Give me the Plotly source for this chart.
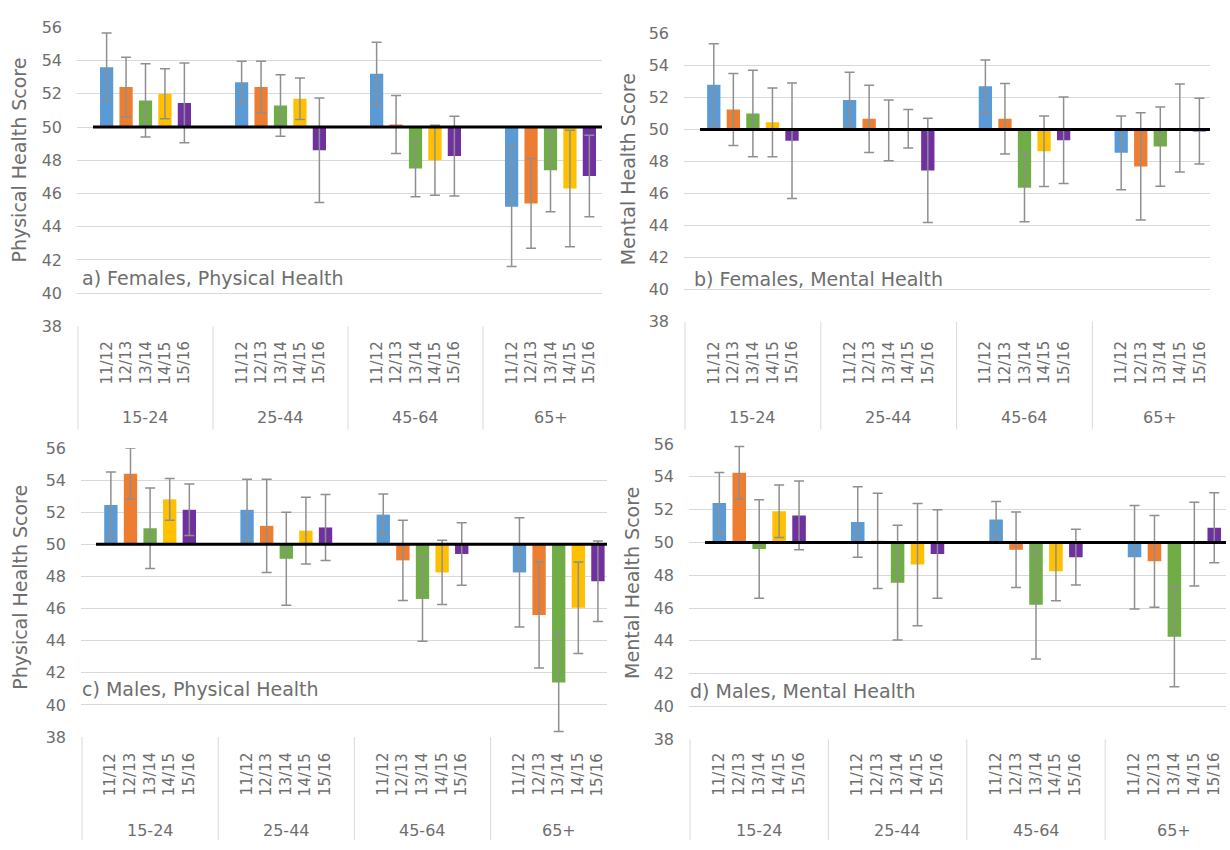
import plotly.graph_objects as go

W, H = 1230, 850

AGE_GROUPS = ["15-24", "25-44", "45-64", "65+"]
YEARS = ["11/12", "12/13", "13/14", "14/15", "15/16"]
COLORS = ["#5B9BD5", "#ED7D31", "#70AD47", "#FFC000", "#7030A0"]
Y_TICKS = [38, 40, 42, 44, 46, 48, 50, 52, 54, 56]
BASELINE = 50

# Mean scores: one row per survey year, one column per age group
FEM_PHYS = [
    [53.6, 52.7, 53.2, 45.2],
    [52.4, 52.4, 50.15, 45.4],
    [51.6, 51.3, 47.5, 47.4],
    [52.0, 51.7, 48.0, 46.3],
    [51.45, 48.6, 48.25, 47.05],
]
FEM_PHYS_CI = [
    [2.05, 1.25, 1.9, 3.6],
    [1.8, 1.55, 1.75, 2.7],
    [2.2, 1.85, 1.7, 2.5],
    [1.5, 1.25, 2.1, 3.5],
    [2.4, 3.15, 2.4, 2.45],
]

FEM_MENT = [
    [52.8, 51.85, 52.7, 48.55],
    [51.25, 50.67, 50.67, 47.7],
    [51.0, 49.95, 46.37, 48.94],
    [50.45, 50.05, 48.65, 50.1],
    [49.3, 47.45, 49.33, 49.9],
]
FEM_MENT_CI = [
    [2.55, 1.73, 1.65, 2.3],
    [2.25, 2.1, 2.2, 3.35],
    [2.7, 1.9, 2.13, 2.47],
    [2.15, 1.2, 2.2, 2.75],
    [3.6, 3.25, 2.7, 2.05],
]

MALE_PHYS = [
    [52.45, 52.15, 51.85, 48.25],
    [54.4, 51.15, 49.0, 45.6],
    [51.0, 49.1, 46.6, 41.4],
    [52.8, 50.85, 48.25, 46.05],
    [52.15, 51.05, 49.4, 47.7],
]
MALE_PHYS_CI = [
    [2.05, 1.9, 1.28, 3.4],
    [1.6, 2.9, 2.5, 3.3],
    [2.5, 2.9, 2.64, 3.05],
    [1.3, 2.08, 2.0, 2.85],
    [1.6, 2.05, 1.95, 2.5],
]

MALE_MENT = [
    [52.4, 51.25, 51.4, 49.1],
    [54.25, 50.1, 49.55, 48.85],
    [49.6, 47.55, 46.2, 44.25],
    [51.9, 48.65, 48.25, 49.9],
    [51.65, 49.3, 49.1, 50.9],
]
MALE_MENT_CI = [
    [1.87, 2.15, 1.1, 3.15],
    [1.6, 2.9, 2.3, 2.8],
    [3.0, 3.5, 3.3, 3.05],
    [1.6, 3.72, 1.8, 2.55],
    [2.1, 2.7, 1.7, 2.13],
]

TEXT_COLOR = "#6e6e6e"
FONT = "DejaVu Sans"
STEP = 0.144      # distance between neighbouring bars, in category widths
BAR_W = 0.098     # bar width, in category widths


def fx(p):
    return p / W


def fy(p):
    return 1 - p / H


# Page geometry of each panel (pixels)
PANELS = [
    dict(vals=FEM_PHYS, ci=FEM_PHYS_CI, ytitle="Physical Health Score",
         label="a) Females, Physical Health",
         left=78, right=602, gw=135.0, top=18.7, bottom=324.7, line_from=93,
         box_bottom=430, year_y=362, age_y=418, title_x=19, title_y=155,
         label_x=80, label_y=275),
    dict(vals=FEM_MENT, ci=FEM_MENT_CI, ytitle="Mental Health Score",
         label="b) Females, Mental Health",
         left=685, right=1210, gw=135.8, top=25, bottom=320, line_from=700,
         box_bottom=430, year_y=362, age_y=418, title_x=628, title_y=164,
         label_x=692, label_y=276),
    dict(vals=MALE_PHYS, ci=MALE_PHYS_CI, ytitle="Physical Health Score",
         label="c) Males, Physical Health",
         left=82, right=607, gw=136.2, top=449, bottom=744.7, line_from=96,
         box_bottom=850, year_y=783, age_y=840, title_x=20, title_y=592,
         label_x=80, label_y=696),
    dict(vals=MALE_MENT, ci=MALE_MENT_CI, ytitle="Mental Health Score",
         label="d) Males, Mental Health",
         left=690, right=1226, gw=138.4, top=445, bottom=747, line_from=705,
         box_bottom=850, year_y=783, age_y=840, title_x=632, title_y=587,
         label_x=688, label_y=698),
]

fig = go.Figure()
layout = dict(
    width=W, height=H, margin=dict(l=0, r=0, t=0, b=0),
    paper_bgcolor="white", plot_bgcolor="white",
    barmode="overlay", showlegend=False,
    font=dict(family=FONT, color=TEXT_COLOR),
)
shapes, annotations = [], []

for k, p in enumerate(PANELS, start=1):
    sx = "" if k == 1 else str(k)
    xa, ya = "x" + sx, "y" + sx
    x_start = -0.5 - 1.0 / p["gw"]
    x_end = -0.5 + (p["right"] - p["left"]) / p["gw"]

    layout["xaxis" + sx] = dict(
        domain=[fx(p["left"] - 1), fx(p["right"])], range=[x_start, x_end],
        anchor=ya, showticklabels=False, showgrid=False, zeroline=False,
        showline=False, fixedrange=True,
    )
    layout["yaxis" + sx] = dict(
        domain=[fy(p["bottom"]), fy(p["top"])], range=[38, 56], anchor=xa,
        tickvals=Y_TICKS, showgrid=True, gridcolor="#d9d9d9", gridwidth=1,
        zeroline=False, showline=False, ticks="", ticklabelstandoff=14,
        tickfont=dict(size=16, color=TEXT_COLOR, family=FONT),
    )

    for i, year in enumerate(YEARS):
        xs = [g + (i - 2) * STEP for g in range(len(AGE_GROUPS))]
        vals = p["vals"][i]
        fig.add_trace(go.Bar(
            x=xs, y=[v - BASELINE for v in vals], base=BASELINE, width=BAR_W,
            marker=dict(color=COLORS[i], line=dict(width=0)),
            xaxis=xa, yaxis=ya, name=year, hoverinfo="skip",
        ))
        fig.add_trace(go.Scatter(
            x=xs, y=vals, mode="markers", marker=dict(size=1, opacity=0),
            error_y=dict(type="data", array=p["ci"][i], symmetric=True,
                         color="#8f8f8f", thickness=1.5, width=5),
            xaxis=xa, yaxis=ya, hoverinfo="skip",
        ))
        for g, x in enumerate(xs):
            annotations.append(dict(
                x=x, xref=xa, y=fy(p["year_y"]), yref="paper", text=year,
                textangle=-90, showarrow=False, xanchor="center", yanchor="middle",
                font=dict(size=15, color=TEXT_COLOR, family=FONT),
            ))

    # reference line at the population norm
    shapes.append(dict(
        type="line", xref=xa, yref=ya,
        x0=-0.5 + (p["line_from"] - p["left"]) / p["gw"], x1=x_end,
        y0=BASELINE, y1=BASELINE, line=dict(color="black", width=3), layer="above",
    ))

    # category box dividers below the plot
    for g in range(len(AGE_GROUPS) + 1):
        shapes.append(dict(
            type="line", xref=xa, yref="paper", x0=g - 0.5, x1=g - 0.5,
            y0=fy(p["bottom"]), y1=fy(p["box_bottom"]),
            line=dict(color="#d9d9d9", width=1),
        ))

    for g, age in enumerate(AGE_GROUPS):
        annotations.append(dict(
            x=g, xref=xa, y=fy(p["age_y"]), yref="paper", text=age,
            showarrow=False, xanchor="center", yanchor="middle",
            font=dict(size=16, color=TEXT_COLOR, family=FONT),
        ))

    annotations.append(dict(
        x=fx(p["title_x"]), xref="paper", y=fy(p["title_y"]), yref="paper",
        text=p["ytitle"], textangle=-90, showarrow=False,
        xanchor="center", yanchor="middle",
        font=dict(size=19, color=TEXT_COLOR, family=FONT),
    ))
    annotations.append(dict(
        x=fx(p["label_x"]), xref="paper", y=fy(p["label_y"]), yref="paper",
        text=p["label"], showarrow=False, xanchor="left", yanchor="middle",
        font=dict(size=19, color=TEXT_COLOR, family=FONT),
    ))

layout["shapes"] = shapes
layout["annotations"] = annotations
fig.update_layout(**layout)
fig.write_html("out.html")
